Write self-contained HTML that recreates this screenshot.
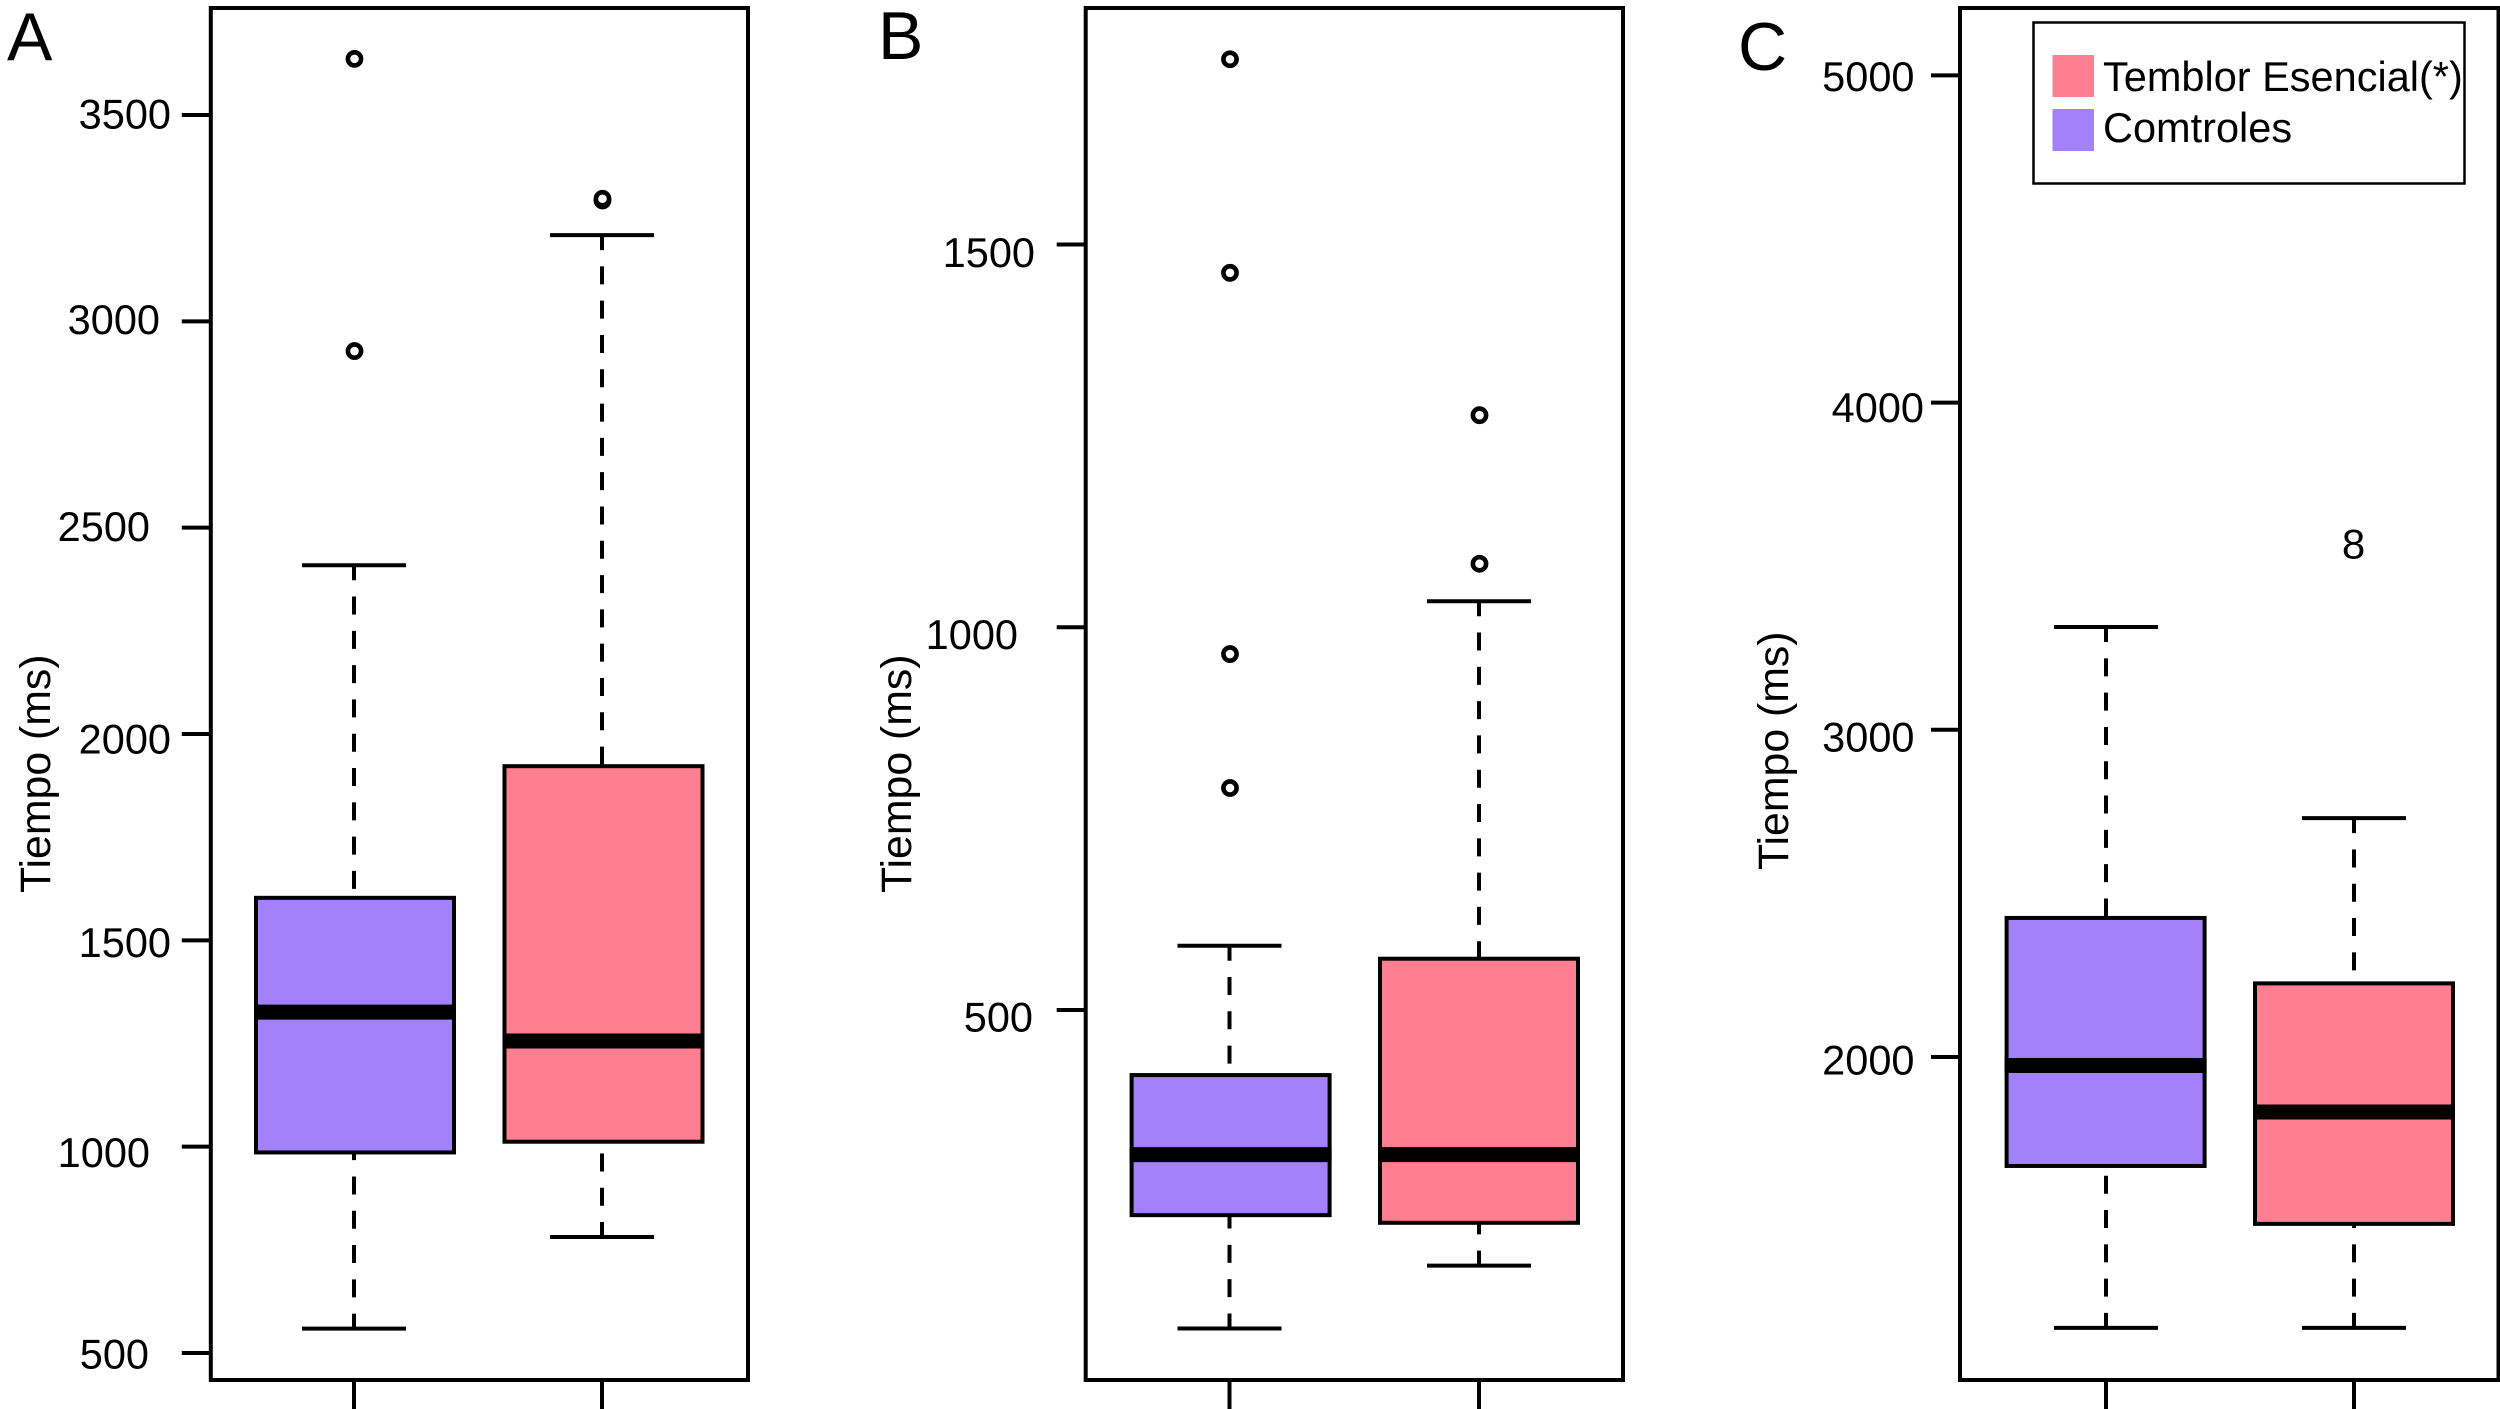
<!DOCTYPE html>
<html lang="es">
<head>
<meta charset="utf-8">
<title>Tiempo (ms) boxplots</title>
<style>
html,body{margin:0;padding:0;background:#fff;width:2500px;height:1409px;overflow:hidden}
svg{display:block}
text{font-family:"Liberation Sans",sans-serif;fill:#000}
</style>
</head>
<body>
<svg id="chart" xmlns="http://www.w3.org/2000/svg" width="2500" height="1409" viewBox="0 0 2500 1409">
  <rect x="0" y="0" width="2500" height="1409" fill="#ffffff"/>
  <g id="panels"></g>
  <g>
    <rect x="2033.5" y="22.5" width="431" height="161" fill="#ffffff" stroke="#000" stroke-width="2.5"/>
    <rect x="2052.5" y="55" width="41.5" height="42" fill="#FF7F91"/>
    <text x="2103" y="91" font-size="41.5">Temblor Esencial(*)</text>
    <rect x="2052.5" y="109" width="41.5" height="42" fill="#A381FA"/>
    <text x="2103" y="142" font-size="41.5">Comtroles</text>
  </g>
</svg>
<script>
// ---- data ----
const panelLetters = ['A', 'B', 'C'];
const axisTitle = 'Tiempo (ms)';
const categories = ['Comtroles', 'Temblor Esencial'];
const boxColors = ['#A381FA', '#FF7F91'];

const ticksA = [3500, 3000, 2500, 2000, 1500, 1000, 500];
const ticksB = [1500, 1000, 500];
const ticksC = [5000, 4000, 3000, 2000];

const whiskerLowA = [559, 781];
const q1A = [986, 1012];
const medianA = [1326, 1256];
const q3A = [1603, 1922];
const whiskerHighA = [2409, 3209];
const outliersControlA = [3636, 2928];
const outliersTremorA = [3293, 3297];

const whiskerLowB = [84, 166];
const q1B = [232, 222];
const medianB = [311, 311];
const q3B = [415, 567];
const whiskerHighB = [584, 1034];
const outliersControlB = [1742, 1463, 965, 790];
const outliersTremorB = [1277, 1083];

const whiskerLowC = [1172, 1172];
const q1C = [1667, 1490];
const medianC = [1974, 1832];
const q3C = [2425, 2225];
const whiskerHighC = [3314, 2730];
const outliersControlC = [];
const outliersTremorC = [];
const textMarkerValueC = 3566;
const textMarkerGlyphC = '8';

// ---- layout ----
const panelLayouts = [
  {left:210.8, right:748, titleX:50, titleY:893, letterX:7, letterY:60,
   refValue:500, refY:1353, pxPerUnit:0.41267,
   centers:[354,602], boxLefts:[254,502.5],
   labelRight:[171,160,150,171,171,150,149], labelDy:[0,-1,0,6,3,7,2],
   ticks:ticksA, lo:whiskerLowA, q1:q1A, med:medianA, q3:q3A, hi:whiskerHighA,
   outliers:[outliersControlA, outliersTremorA]},
  {left:1085.7, right:1623, titleX:911, titleY:893, letterX:878, letterY:59,
   refValue:500, refY:1010, pxPerUnit:0.7655,
   centers:[1229.5,1479],  boxLefts:[1129.6,1378],
   labelRight:[1035,1018,1033], labelDy:[9,8,8],
   ticks:ticksB, lo:whiskerLowB, q1:q1B, med:medianB, q3:q3B, hi:whiskerHighB,
   outliers:[outliersControlB, outliersTremorB]},
  {left:1960, right:2498.5, titleX:1788, titleY:870, letterX:1738, letterY:70,
   refValue:2000, refY:1057, pxPerUnit:0.3272,
   centers:[2106,2354], boxLefts:[2004.6,2253],
   labelRight:[1914.5,1924,1914.5,1914.5], labelDy:[2,6,8,4],
   ticks:ticksC, lo:whiskerLowC, q1:q1C, med:medianC, q3:q3C, hi:whiskerHighC,
   outliers:[outliersControlC, outliersTremorC]}
];
const frameTop = 8, frameBottom = 1380, imageBottom = 1409;
const boxWidth = 202, capHalf = 52, stroke = 4;
const SVGNS = 'http://www.w3.org/2000/svg';

function make(tag, attrs, parent) {
  const el = document.createElementNS(SVGNS, tag);
  for (const k in attrs) el.setAttribute(k, attrs[k]);
  parent.appendChild(el);
  return el;
}
function yScale(p) {
  return function (v) { return p.refY - (v - p.refValue) * p.pxPerUnit; };
}
function slug(s) { return s.toLowerCase().replace(/[^a-z]+/g, '-'); }

const root = document.getElementById('panels');

panelLayouts.forEach(function (p, pi) {
  const y = yScale(p);
  const letter = panelLetters[pi];
  const tag = letter.toLowerCase();

  const g = make('g', {}, root);
  
  

  // panel letter
  const letterEl = make('text', {x:p.letterX, y:p.letterY, 'font-size':68}, g);
  letterEl.textContent = letter;
  
  

  // y-axis title
  const title = make('text', {x:0, y:0, 'font-size':42.8,
    transform:'translate(' + p.titleX + ',' + p.titleY + ') rotate(-90)'}, g);
  title.textContent = axisTitle;
  
  

  // y ticks and labels
  p.ticks.forEach(function (t, i) {
    const tickY = y(t);
    const tick = make('line', {x1:p.left - 29, x2:p.left, y1:tickY, y2:tickY, stroke:'#000', 'stroke-width':4}, g);
    
    
    const lab = make('text', {x:p.labelRight[i], y:tickY + p.labelDy[i] + 13.5, 'font-size':41.5, 'text-anchor':'end'}, g);
    lab.textContent = String(t);
    
    
  });

  // boxes
  categories.forEach(function (cat, c) {
    const cx = p.centers[c];
    const boxL = p.boxLefts[c];
    const name = tag + '-' + slug(cat);

    const hiY = y(p.hi[c]), loY = y(p.lo[c]);
    const q3Y = y(p.q3[c]), q1Y = y(p.q1[c]), medY = y(p.med[c]);

    const wHi = make('line', {x1:cx, x2:cx, y1:hiY, y2:q3Y, stroke:'#000', 'stroke-width':stroke,
      'stroke-dasharray':'18 16.3', 'stroke-dashoffset':3}, g);
    
    

    const wLo = make('line', {x1:cx, x2:cx, y1:loY, y2:q1Y, stroke:'#000', 'stroke-width':stroke,
      'stroke-dasharray':'18 16.3', 'stroke-dashoffset':3}, g);
    
    

    const capHi = make('line', {x1:cx - capHalf, x2:cx + capHalf, y1:hiY, y2:hiY, stroke:'#000', 'stroke-width':4}, g);
    
    

    const capLo = make('line', {x1:cx - capHalf, x2:cx + capHalf, y1:loY, y2:loY, stroke:'#000', 'stroke-width':4}, g);
    
    

    const box = make('rect', {x:boxL + stroke / 2, y:q3Y, width:boxWidth - stroke, height:q1Y - q3Y,
      fill:boxColors[c], stroke:'#000', 'stroke-width':stroke}, g);
    
    

    const med = make('line', {x1:boxL, x2:boxL + boxWidth, y1:medY, y2:medY, stroke:'#000', 'stroke-width':15}, g);
    
    

    p.outliers[c].forEach(function (v, k) {
      const o = make('circle', {cx:cx + 0.5, cy:y(v), r:6.6, fill:'#fff', stroke:'#000', 'stroke-width':4.6}, g);
      
      
    });

    // x tick below the frame
    const xt = make('line', {x1:cx, x2:cx, y1:frameBottom, y2:imageBottom, stroke:'#000', 'stroke-width':4}, g);
    
    
  });

  // frame
  const frame = make('rect', {x:p.left, y:frameTop, width:p.right - p.left, height:frameBottom - frameTop,
    fill:'none', stroke:'#000', 'stroke-width':4}, g);
  
  
});

// panel C shows its overlapping outliers as a printed glyph
const panelC = panelLayouts[2];
const marker = make('text', {x:panelC.centers[1] - 0.5, y:yScale(panelC)(textMarkerValueC) + 14, 'font-size':42, 'text-anchor':'middle'}, root);
marker.textContent = textMarkerGlyphC;


</script>
</body>
</html>
